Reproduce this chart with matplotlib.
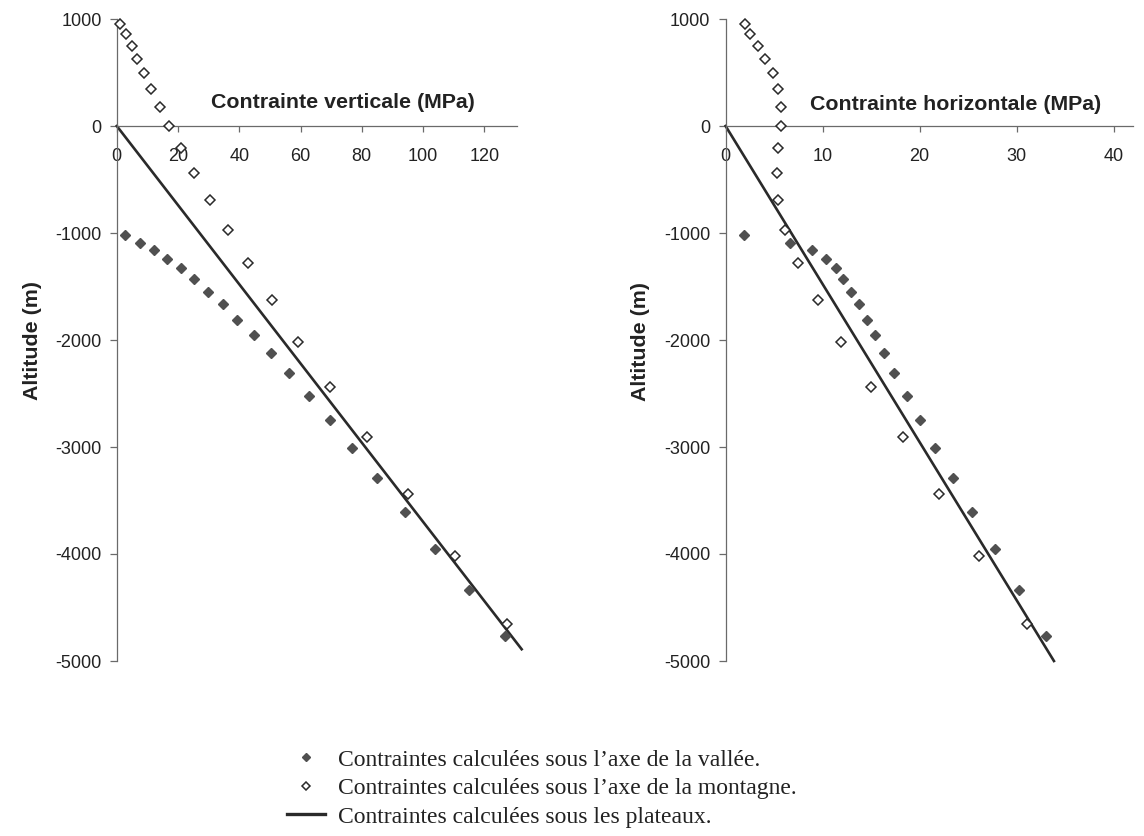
import matplotlib.pyplot as plt
from matplotlib.lines import Line2D

# altitudes (m) of the computed points
alt_montagne = [955, 858, 748, 627, 494, 345, 178, 0, -210, -438, -690, -970,
                -1282, -1625, -2018, -2440, -2908, -3435, -4016, -4657]
alt_vallee = [-1020, -1095, -1162, -1243, -1330, -1434, -1548, -1668, -1810, -1950,
              -2120, -2310, -2522, -2750, -3006, -3286, -3606, -3955, -4339, -4766]

# vertical stress (MPa)
sv_vallee = [2.7, 7.7, 12.1, 16.3, 20.9, 25.3, 29.8, 34.6, 39.4, 44.7,
             50.2, 56.1, 62.6, 69.7, 76.9, 85.1, 94.2, 104.0, 114.9, 126.6]
sv_montagne = [1.2, 2.9, 4.8, 6.7, 8.8, 11.2, 14.0, 17.1, 21.0, 25.3,
               30.4, 36.3, 42.9, 50.7, 59.3, 69.7, 81.6, 95.1, 110.4, 127.5]
sv_plateau = [0, 132.2]
alt_plateau_v = [0, -4890]

# horizontal stress (MPa)
sh_vallee = [1.88, 6.6, 8.9, 10.34, 11.36, 12.15, 12.94, 13.74, 14.56, 15.4,
             16.34, 17.4, 18.69, 20.08, 21.63, 23.44, 25.44, 27.8, 30.27, 32.99]
sh_montagne = [1.96, 2.56, 3.32, 4.11, 4.87, 5.43, 5.73, 5.66, 5.43, 5.32,
               5.43, 6.15, 7.51, 9.51, 11.9, 14.95, 18.3, 22.04, 26.1, 31.06]
sh_plateau = [0, 33.85]
alt_plateau_h = [0, -5000]

yticks = [1000, 0, -1000, -2000, -3000, -4000, -5000]
xticks_v = [0, 20, 40, 60, 80, 100, 120]
xticks_h = [0, 10, 20, 30, 40]

legend_labels = ["Contraintes calculées sous l\u2019axe de la vallée.",
                 "Contraintes calculées sous l\u2019axe de la montagne.",
                 "Contraintes calculées sous les plateaux."]

W, H = 1144, 836
plt.rcParams['font.family'] = ['Liberation Sans', 'DejaVu Sans']

fig = plt.figure(figsize=(W / 100, H / 100), dpi=100)

DARK = '#2a2a2a'
FILL = '#505050'
AXC = '#6a6a6a'


def px_axes(left, top, right, bottom):
    return fig.add_axes([left / W, 1 - bottom / H, (right - left) / W, (bottom - top) / H])


def draw_panel(ax, xv, xm, xp, yp, xmax, xticks):
    ax.plot(xp, yp, color=DARK, lw=1.9, clip_on=False, zorder=2)
    ax.plot(xv, alt_vallee, ls='none', marker='D', ms=5.3, color=FILL,
            mec=FILL, clip_on=False, zorder=3)
    ax.plot(xm, alt_montagne, ls='none', marker='D', ms=4.8, mfc='white',
            mec=DARK, mew=1.1, clip_on=False, zorder=3)
    ax.set_xlim(0, xmax)
    ax.set_ylim(-5000, 1000)
    ax.spines['left'].set_position(('data', 0))
    ax.spines['bottom'].set_position(('data', 0))
    ax.spines['right'].set_color('none')
    ax.spines['top'].set_color('none')
    for s in ('left', 'bottom'):
        ax.spines[s].set_color(AXC)
        ax.spines[s].set_linewidth(0.9)
    ax.set_xticks(xticks)
    ax.set_yticks(yticks)
    ax.set_xticklabels([str(t) for t in xticks])
    ax.set_yticklabels([str(t) for t in yticks])
    ax.tick_params(axis='x', direction='out', length=4, width=0.9, color=AXC,
                   pad=12, labelsize=13, labelcolor='#222222')
    ax.tick_params(axis='y', direction='out', length=5, width=0.9, color=AXC,
                   pad=6, labelsize=13, labelcolor='#222222')
    ax.patch.set_alpha(0)


ax1 = px_axes(116.8, 19, 116.8 + 130.6 * 3.0625, 661)
draw_panel(ax1, sv_vallee, sv_montagne, sv_plateau, alt_plateau_v, 130.6, xticks_v)
ax2 = px_axes(725.6, 19, 725.6 + 42 * 9.7, 661)
draw_panel(ax2, sh_vallee, sh_montagne, sh_plateau, alt_plateau_h, 42, xticks_h)

lab = dict(fontsize=15.4, fontweight='bold', color='#222222', ha='center', va='center')
fig.text(343 / W, 1 - 103 / H, 'Contrainte verticale (MPa)', **lab)
fig.text(956 / W, 1 - 104 / H, 'Contrainte horizontale (MPa)', **lab)
fig.text(32 / W, 1 - 340 / H, 'Altitude (m)', rotation=90, **lab)
fig.text(641 / W, 1 - 341 / H, 'Altitude (m)', rotation=90, **lab)

handles = [
    Line2D([], [], ls='none', marker='D', ms=4.3, color=FILL, mec=FILL),
    Line2D([], [], ls='none', marker='D', ms=4.3, mfc='white', mec=DARK, mew=1.1),
    Line2D([], [], color=DARK, lw=2.4),
]
fig.legend(handles, legend_labels, loc='upper left',
           bbox_to_anchor=(287 / W, 1 - 749 / H), frameon=False,
           prop={'family': ['Liberation Serif', 'DejaVu Serif'], 'size': 17},
           handlelength=1.6, handletextpad=0.55, labelspacing=0.3,
           borderpad=0, borderaxespad=0, labelcolor='#222222')

fig.savefig('out.png', dpi=100)
